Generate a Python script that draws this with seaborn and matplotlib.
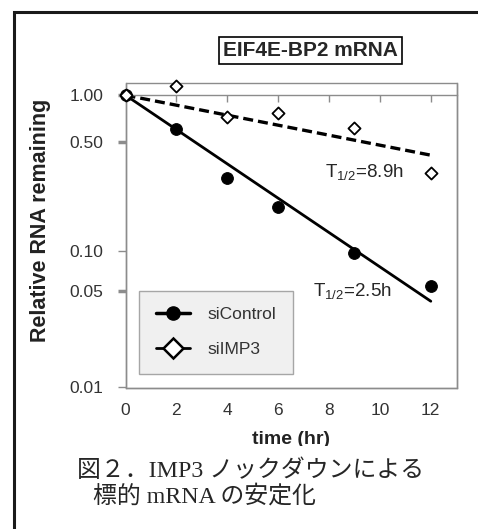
import numpy as np
import pandas as pd
import matplotlib
matplotlib.use('Agg')
import matplotlib.pyplot as plt
from matplotlib.lines import Line2D
from matplotlib.patches import Rectangle
from matplotlib.ticker import NullLocator
import seaborn as sns

# --- data ---
time_hr = [0, 2, 4, 6, 9, 12]
si_control = [1.0, 0.605, 0.293, 0.192, 0.096, 0.054]
si_imp3 = [1.0, 1.15, 0.727, 0.765, 0.614, 0.316]

# fitted decay lines (end points)
fit_time = [0, 12]
fit_control = [1.0, 0.042]
fit_imp3 = [1.0, 0.414]

series_names = ['siControl', 'siIMP3']
halflife_labels = ['T$_{1/2}$=2.5h', 'T$_{1/2}$=8.9h']
title = 'EIF4E-BP2 mRNA'

y_ticks = [0.01, 0.05, 0.10, 0.50, 1.00]
y_tick_labels = ['0.01', '0.05', '0.10', '0.50', '1.00']
x_ticks = [0, 2, 4, 6, 8, 10, 12]

caption_1 = '図２．IMP3 ノックダウンによる'
caption_2 = '標的 mRNA の安定化'

# the drawn y axis is log-like but its decades are not evenly spaced,
# so use a piecewise log scale calibrated on the labelled ticks
knot_log = np.array([-3.0, -2.0, np.log10(0.05), -1.0, np.log10(0.5), 0.0, 1.0])
knot_pos = np.array([-523.7, -386.7, -290.7, -250.7, -142.3, -95.0, 59.0])


def fwd(v):
    v = np.clip(np.asarray(v, dtype=float), 1e-6, None)
    return np.interp(np.log10(v), knot_log, knot_pos)


def inv(u):
    return 10 ** np.interp(np.asarray(u, dtype=float), knot_pos, knot_log)


sns.set_theme(style='white')
plt.rcParams['font.family'] = ['Liberation Sans', 'DejaVu Sans']
plt.rcParams['mathtext.fontset'] = 'custom'
plt.rcParams['mathtext.rm'] = 'Liberation Sans'

grey = '#8c8c8c'
fig = plt.figure(figsize=(4.78, 5.29), dpi=100)
ax = fig.add_axes([0.2626, 0.2665, 0.6935, 0.5766])
ax.set_yscale('function', functions=(fwd, inv))
ax.set_ylim(0.0098, 1.2)
ax.set_xlim(0, 13.03)

# fitted lines
sns.lineplot(x=fit_time, y=fit_control, color='black', lw=2.0, ax=ax)
sns.lineplot(x=fit_time, y=fit_imp3, color='black', lw=2.4, linestyle='--', ax=ax)
ax.lines[-1].set_dashes([3.0, 1.5])

# data points
sns.scatterplot(x=time_hr, y=si_control, marker='o', s=72, color='black',
                edgecolor='black', ax=ax, zorder=3, clip_on=False)
sns.scatterplot(x=time_hr, y=si_imp3, marker='D', s=38, color='white',
                edgecolor='black', linewidth=1.3, ax=ax, zorder=4, clip_on=False)

ax.text(7.84, 0.32, halflife_labels[1], fontsize=13.5, va='center', ha='left')
ax.text(7.37, 0.049, halflife_labels[0], fontsize=13.5, va='center', ha='left')

# axes frame, x axis crossing at y = 1
for s in ax.spines.values():
    s.set_color(grey)
    s.set_linewidth(1)
ax.spines['top'].set_position(('data', 1.0))
ax.patch.set_edgecolor(grey)
ax.patch.set_linewidth(1)

ax.set_xticks(x_ticks)
ax.set_yticks(y_ticks, labels=y_tick_labels)
ax.yaxis.set_minor_locator(NullLocator())
ax.xaxis.set_minor_locator(NullLocator())
ax.tick_params(axis='x', bottom=False, top=True, labelbottom=True, labeltop=False,
               direction='in', length=5, width=1, color=grey,
               labelsize=12.5, labelcolor='#333333', pad=11)
ax.tick_params(axis='y', left=True, right=False, direction='out', length=6,
               width=1, color=grey, labelsize=12.5, labelcolor='#333333', pad=10)
for tick, lab in zip(ax.yaxis.get_major_ticks(), y_tick_labels):
    if lab in ('1.00', '0.50', '0.05'):
        tick.tick1line.set_color('black')
        tick.tick1line.set_markeredgewidth(2.5)

ax.set_ylabel('Relative RNA remaining', fontsize=15.5, fontweight='bold', color='#222222')
ax.yaxis.set_label_coords(-0.225, 0.551)
ax.set_xlabel('time (hr)', fontsize=14, fontweight='bold', color='#222222')
ax.xaxis.set_label_coords(0.5, -0.141)

handles = [
    Line2D([], [], color='black', lw=2.5, marker='o', ms=9.5, label=series_names[0]),
    Line2D([], [], color='black', lw=2.0, marker='D', ms=10, mfc='white',
           mec='black', mew=1.8, label=series_names[1]),
]
leg = ax.legend(handles=handles, loc='upper left', bbox_to_anchor=(0.041, 0.319),
                borderaxespad=0, fontsize=12.5, frameon=True, fancybox=False,
                framealpha=1, facecolor='#f0f0f0', edgecolor='#a6a6a6',
                handlelength=2.0, handletextpad=1.0, labelspacing=1.15, borderpad=0.95)
leg.get_frame().set_linewidth(1)
for t in leg.get_texts():
    t.set_color('#333333')

fig.text(310.8 / 478, 1 - 50.4 / 529, title, ha='center', va='center',
         fontsize=15, fontweight='bold',
         bbox=dict(boxstyle='square,pad=0.2', fc='white', ec='black', lw=1.2))

# clip the bottom of the x label like the original, then the caption
fig.add_artist(Rectangle((0.03, 0), 0.94, 1 - 446 / 529, transform=fig.transFigure,
                         fc='white', ec='none', zorder=5))
cap_font = ['Liberation Serif', 'Noto Sans CJK JP']
fig.text(77 / 478, 1 - 471 / 529, caption_1, family=cap_font, fontsize=17.2,
         ha='left', va='center', zorder=6)
fig.text(93 / 478, 1 - 496 / 529, caption_2, family=cap_font, fontsize=17.2,
         ha='left', va='center', zorder=6)

# outer frame (left and top edges visible)
fig.add_artist(Rectangle((13.5 / 478, -0.5), 2, 0.5 + 1 - 11.5 / 529,
                         transform=fig.transFigure, fill=False,
                         ec='#1a1a1a', lw=2.2, zorder=10))

fig.savefig('out.png', dpi=100)
